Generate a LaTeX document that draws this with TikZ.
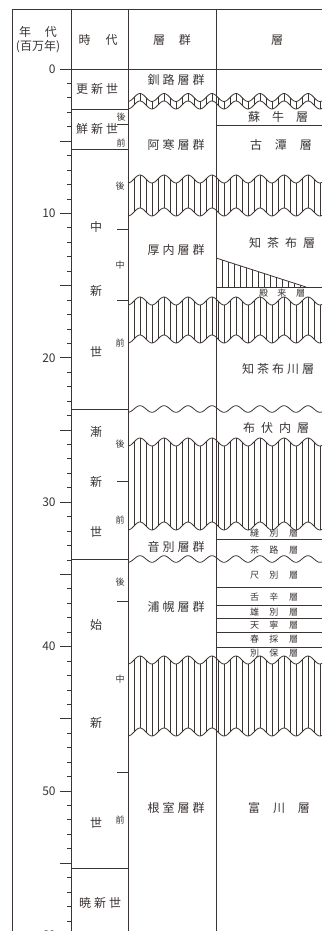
\documentclass[tikz,border=0pt]{standalone}
\usepackage{fontspec}
\setmainfont{Noto Sans CJK JP}
\usepackage{xcolor}
\definecolor{inkc}{RGB}{58,52,50}

\begin{document}
\begin{tikzpicture}[x=1pt,y=-1pt,line width=0.8pt,color=inkc,
    lbl/.style={font=\fontsize{12}{14}\selectfont, inner sep=0pt},
    sm/.style={font=\fontsize{9}{10}\selectfont, inner sep=0pt},
    hatch/.style={line width=0.6pt}]
    \useasboundingbox (0,0) rectangle (322,931);

    % age scale
    \foreach \t in {0,...,60} \draw (67,{69+14.44*\t}) -- (71,{69+14.44*\t});
    \foreach \t in {0,5,...,60} \draw (60,{69+14.44*\t}) -- (71,{69+14.44*\t});
    \foreach \t in {0,10,...,60} \node[lbl, anchor=east] (age\t) at (56,{69+14.44*\t}) {\t};

    % header
    \node[lbl] (nendai) at (38,32) {年\hspace{14pt}代};
    \node[lbl] (hyakuman) at (38,47) {(百万年)};
    \node[lbl] (jidai) at (98,40) {時\hspace{15pt}代};
    \node[lbl] (sougun) at (172,40) {層\hspace{14pt}群};
    \node[lbl] (sou) at (277,40) {層};

    % epochs
    \foreach \w in {109,149,409,559,868} \draw (71,\w) -- (128,\w);
    \foreach \w in {124,229,300,481,601,772} \draw (117,\w) -- (128,\w);
    \node[lbl] (kousin) at (97,89) {更\hspace{3pt}新\hspace{3pt}世};
    \node[lbl] (sensin) at (97,129) {鮮\hspace{3pt}新\hspace{3pt}世};
    \node[sm] (sensinL) at (121,117) {後};
    \node[sm] (sensinE) at (121,143) {前};
    \node[lbl] (chu1) at (96,227) {中};
    \node[lbl] (chu2) at (96,291) {新};
    \node[lbl] (chu3) at (96,352) {世};
    \node[sm] (chuL) at (120,186) {後};
    \node[sm] (chuM) at (120,265) {中};
    \node[sm] (chuE) at (120,343) {前};
    \node[lbl] (zen1) at (96,432) {漸};
    \node[lbl] (zen2) at (96,482) {新};
    \node[lbl] (zen3) at (96,532) {世};
    \node[sm] (zenL) at (120,444) {後};
    \node[sm] (zenE) at (120,520) {前};
    \node[lbl] (shi1) at (96,625) {始};
    \node[lbl] (shi2) at (96,723) {新};
    \node[lbl] (shi3) at (96,823) {世};
    \node[sm] (shiL) at (120,582) {後};
    \node[sm] (shiM) at (120,679) {中};
    \node[sm] (shiE) at (120,820) {前};
    \node[lbl] (gyou) at (100,903) {暁\hspace{3pt}新\hspace{3pt}世};

    % groups
    \node[lbl] (kushiro) at (176,80) {釧\hspace{3pt}路\hspace{3pt}層\hspace{3pt}群};
    \node[lbl] (akan) at (176,145) {阿\hspace{3pt}寒\hspace{3pt}層\hspace{3pt}群};
    \node[lbl] (atsunai) at (176,250) {厚\hspace{3pt}内\hspace{3pt}層\hspace{3pt}群};
    \node[lbl] (onbetsu) at (176,547) {音\hspace{3pt}別\hspace{3pt}層\hspace{3pt}群};
    \node[lbl] (urahoro) at (176,607) {浦\hspace{3pt}幌\hspace{3pt}層\hspace{3pt}群};
    \node[lbl] (nemuro) at (176,808) {根\hspace{3pt}室\hspace{3pt}層\hspace{3pt}群};

    % formations
    \foreach \w in {125,287,539,587,605,618,632,647} \draw (216,\w) -- (322,\w);
    \begin{scope}
        \clip (216,258) -- (306,287) -- (216,287) -- cycle;
        \foreach \h in {216,222,...,306} \draw[hatch] (\h,250) -- (\h,290);
    \end{scope}
    \draw (216,258) -- (306,287);
    \node[lbl] (soushi) at (278,117) {蘇\hspace{12pt}牛\hspace{12pt}層};
    \node[lbl] (kotan) at (281,145) {古\hspace{13pt}潭\hspace{13pt}層};
    \node[lbl] (chippu) at (282,243) {知\hspace{6pt}茶\hspace{6pt}布\hspace{6pt}層};
    \node[sm] (tonrai) at (282,293) {殿\hspace{9.5pt}来\hspace{9.5pt}層};
    \node[lbl] (chippugawa) at (278,369) {知\hspace{3pt}茶\hspace{3pt}布\hspace{3pt}川\hspace{3pt}層};
    \node[lbl] (fushimi) at (276,428) {布\hspace{6pt}伏\hspace{6pt}内\hspace{6pt}層};
    \node[sm] (nuibetsu) at (274,533) {縫\hspace{10.5pt}別\hspace{10.5pt}層};
    \node[sm] (charo) at (274,550) {茶\hspace{10.5pt}路\hspace{10.5pt}層};
    \node[sm] (shakubetsu) at (274,575) {尺\hspace{10.5pt}別\hspace{10.5pt}層};
    \node[sm] (shitakara) at (274,597) {舌\hspace{10.5pt}辛\hspace{10.5pt}層};
    \node[sm] (yubetsu) at (274,612) {雄\hspace{10.5pt}別\hspace{10.5pt}層};
    \node[sm] (tenei) at (274,625) {天\hspace{10.5pt}寧\hspace{10.5pt}層};
    \node[sm] (harutori) at (274,639) {春\hspace{10.5pt}採\hspace{10.5pt}層};
    \node[sm] (betsuho) at (274,653) {別\hspace{10.5pt}保\hspace{10.5pt}層};
    \node[lbl] (tomikawa) at (279,808) {富\hspace{13pt}川\hspace{13pt}層};

    % unconformities
    \foreach \yt/\yb/\a in {97.5/105/4, 179/212/4, 301/339/4, 442/526/4, 660/732/4} {
        \fill[white] plot[domain=128:322,samples=140] (\x,{\yt-\a*cos((\x-140)*15)})
            -- plot[domain=322:128,samples=140] (\x,{\yb-\a*cos((\x-140)*15)}) -- cycle;
        \begin{scope}
            \clip plot[domain=128:322,samples=140] (\x,{\yt-\a*cos((\x-140)*15)})
                -- plot[domain=322:128,samples=140] (\x,{\yb-\a*cos((\x-140)*15)}) -- cycle;
            \foreach \h in {128,134,...,322} \draw[hatch] (\h,\yt-6) -- (\h,\yb+6);
        \end{scope}
        \draw plot[domain=128:322,samples=140] (\x,{\yt-\a*cos((\x-140)*15)});
        \draw plot[domain=128:322,samples=140] (\x,{\yb-\a*cos((\x-140)*15)});
    }
    \foreach \w in {409,559} \draw plot[domain=128:322,samples=140] (\x,{\w-3.3*cos((\x-140)*15)});

    % frame
    \draw (12,931) -- (12,9) -- (322,9);
    \draw (71,69) -- (322,69);
    \foreach \v in {71,128,216} \draw (\v,9) -- (\v,931);
\end{tikzpicture}
\end{document}
